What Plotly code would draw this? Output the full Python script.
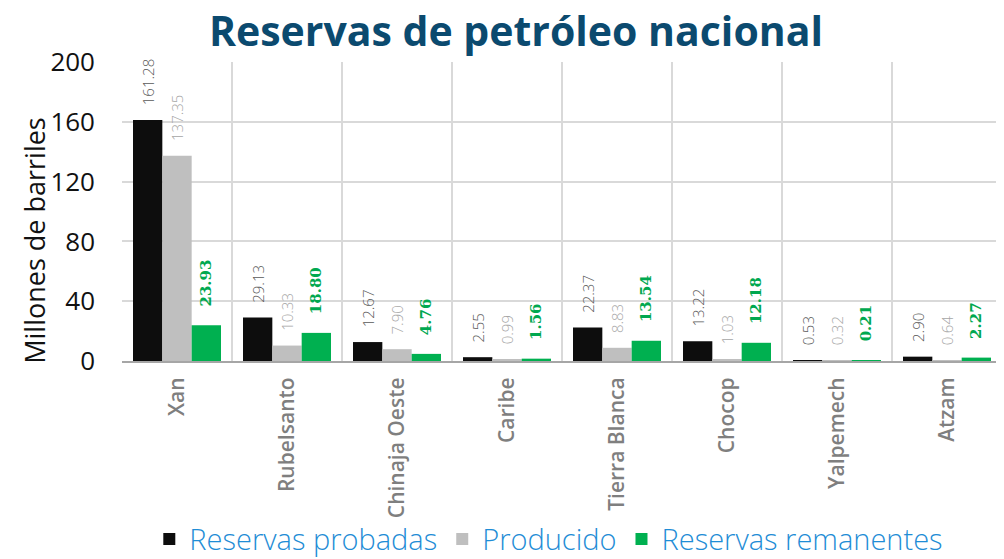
import plotly.graph_objects as go

# datos (millones de barriles)
campos = ["Xan", "Rubelsanto", "Chinaja Oeste", "Caribe", "Tierra Blanca",
          "Chocop", "Yalpemech", "Atzam"]
probadas = [161.28, 29.13, 12.67, 2.55, 22.37, 13.22, 0.53, 2.90]
producido = [137.35, 10.33, 7.90, 0.99, 8.83, 1.03, 0.32, 0.64]
remanentes = [23.93, 18.80, 4.76, 1.56, 13.54, 12.18, 0.21, 2.27]
y_ticks = [0, 40, 80, 120, 160, 200]

FONT = "Open Sans"
PAD = "\u00a0\u00a0\u00a0"  # separación entre barra y etiqueta

def serie(nombre, vals, color, txtcolor, txtfont, peso):
    return go.Bar(
        name=nombre, x=campos, y=vals, marker_color=color, marker_line_width=0,
        text=[PAD + f"{v:.2f}" for v in vals], textposition="outside", textangle=-90,
        textfont=dict(family=txtfont, size=15, color=txtcolor, weight=peso),
        cliponaxis=False, constraintext="none")

fig = go.Figure()
fig.add_trace(serie("Reservas probadas", probadas, "#0d0d0d", "#595959", FONT, 300))
fig.add_trace(serie("Producido", producido, "#bfbfbf", "#a6a6a6", FONT, 300))
fig.add_trace(serie("Reservas remanentes", remanentes, "#00b050", "#00a84f", "DejaVu Serif", "bold"))

# la página deja 8 px de margen al cuerpo: la figura se ajusta a ese hueco
fig.update_layout(
    width=996, height=551,
    margin=dict(l=114, r=2, t=54, b=198, autoexpand=False),
    paper_bgcolor="white", plot_bgcolor="white",
    barmode="group", bargap=0.2, bargroupgap=0,
    title=dict(text="<b>Reservas de petróleo nacional</b>", x=0.51, xanchor="center",
               yref="container", y=0.958, yanchor="middle",
               font=dict(family=FONT, size=41, color="#0b4a6f")),
    legend=dict(orientation="h", x=0.485, xanchor="center",
                yref="container", y=0.036, yanchor="middle",
                bgcolor="rgba(0,0,0,0)",
                font=dict(family=FONT, size=29, color="#1f8dd6", weight=300),
                itemwidth=30, tracegroupgap=0),
    font=dict(family=FONT),
    annotations=[dict(text="Millones de barriles", textangle=-90,
                      xref="paper", yref="paper", x=-0.099, y=0.405,
                      xanchor="center", yanchor="middle", showarrow=False,
                      font=dict(family=FONT, size=27, color="#111111"))],
)
fig.update_xaxes(
    type="category", tickson="boundaries", tickangle=-90,
    tickfont=dict(family=FONT, size=21, color="#7f7f7f", weight=600),
    showgrid=True, gridcolor="#d9d9d9", gridwidth=2, automargin=False,
    showline=True, linecolor="#a6a6a6", linewidth=2, ticks="", ticklabelstandoff=6,
)
fig.update_yaxes(
    range=[0, 200], tickvals=y_ticks, automargin=False,
    tickfont=dict(family=FONT, size=26, color="#111111"),
    showgrid=True, gridcolor="#d9d9d9", gridwidth=2, zeroline=False,
    ticklabelstandoff=26,
)

fig.write_html("out.html")
